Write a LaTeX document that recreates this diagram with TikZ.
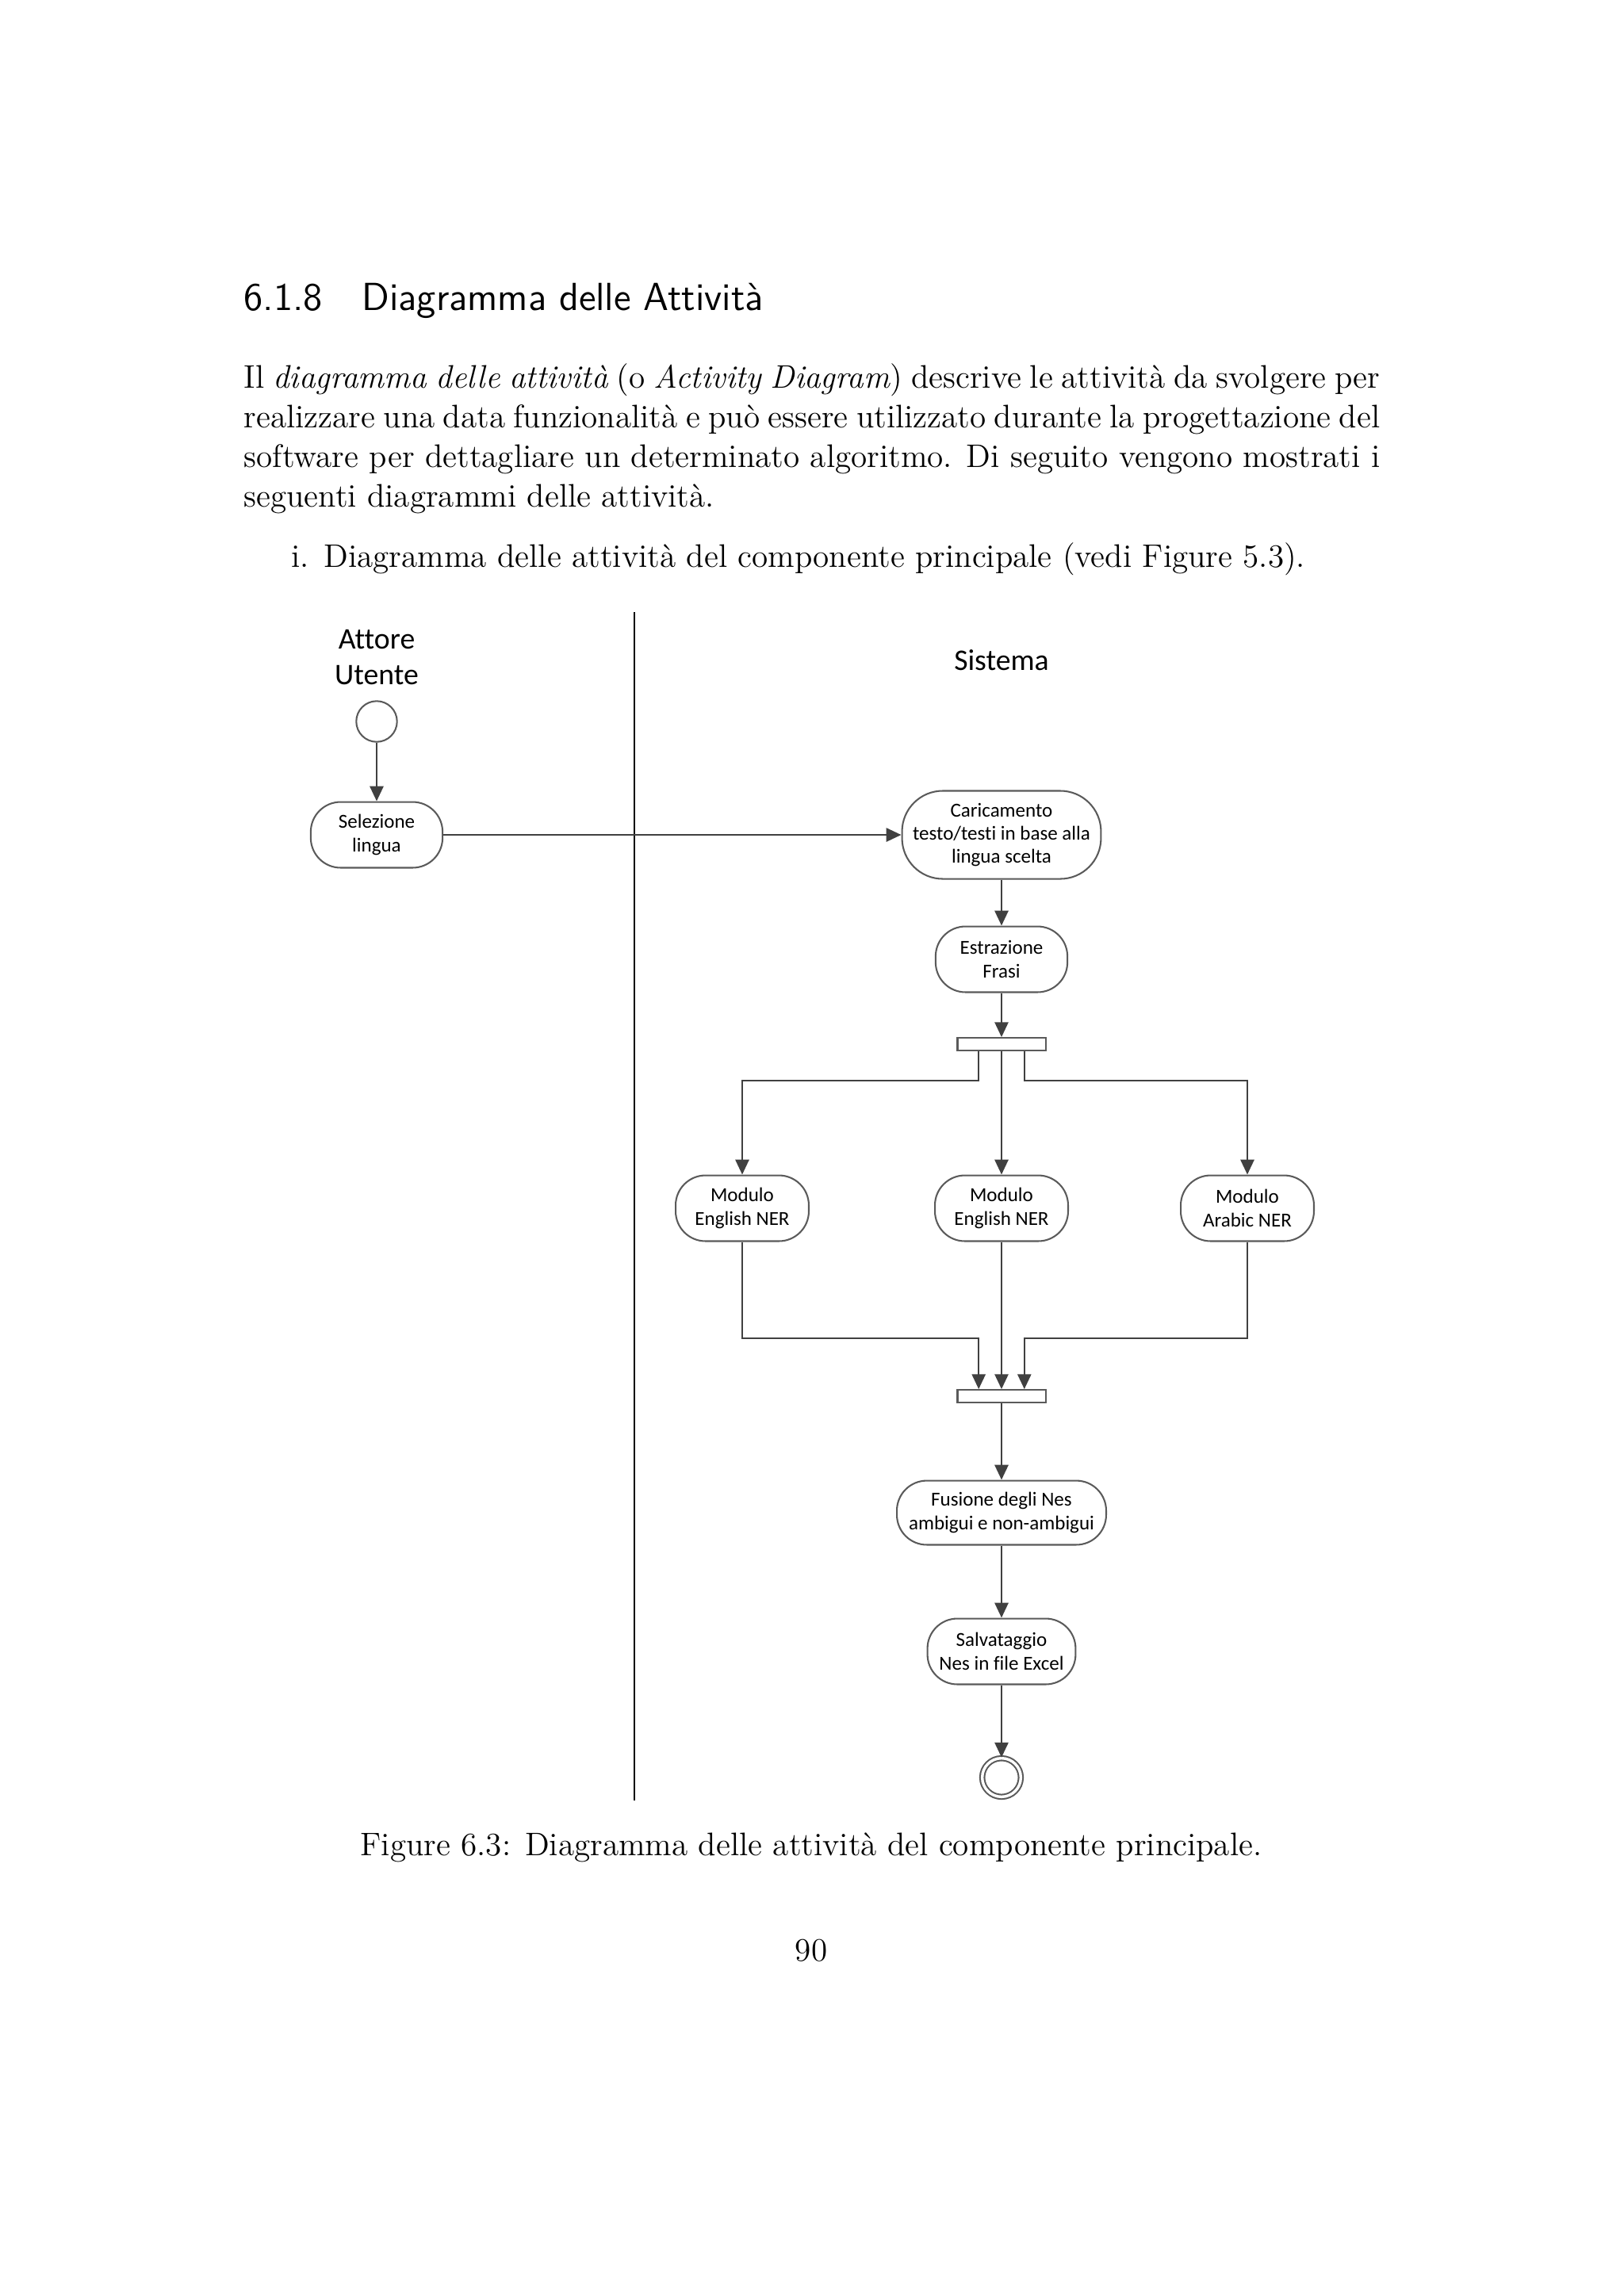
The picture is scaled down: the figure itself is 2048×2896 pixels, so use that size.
\documentclass[tikz,border=0pt,12pt]{standalone}
\usepackage{fontspec}
\newfontfamily\diafont[Ligatures=NoCommon]{Carlito}
\usetikzlibrary{shapes.geometric, arrows.meta, positioning}
\definecolor{flowgray}{HTML}{404040}
\definecolor{boxgray}{HTML}{5A5A5A}

\tikzset{
  txt/.style={anchor=base west, inner sep=0pt},
  lane/.style={align=center, inner sep=0pt, font=\diafont\fontsize{11}{12.9}\selectfont},
  activity/.style={draw=boxgray, fill=white, line width=0.6pt, rounded corners=11pt,
    align=center, inner sep=1pt, minimum width=48.5pt, minimum height=24.2pt,
    font=\diafont\fontsize{7.3}{8.6}\selectfont},
  syncbar/.style={draw=boxgray, fill=white, line width=0.6pt, minimum width=32.4pt,
    minimum height=4.6pt, inner sep=0pt},
  startnode/.style={circle, draw=boxgray, fill=white, line width=0.6pt, minimum size=15pt, inner sep=0pt},
  endnode/.style={circle, draw=boxgray, fill=white, line width=0.6pt, double, double distance=1pt,
    minimum size=14.2pt, inner sep=0pt},
  flow/.style={draw=flowgray, line width=0.7pt, -{Triangle[length=5.5pt,width=5pt]}}
}

\begin{document}
\begin{tikzpicture}[x=0.010254cm, y=-0.010254cm]
\useasboundingbox[fill=white] (0,0) rectangle (2048,2896);

% Section heading and text
\node[txt, font=\sffamily\fontsize{14.4}{17}\selectfont] (secnum) at (307,391) {6.1.8};
\node[txt, font=\sffamily\fontsize{14.4}{17}\selectfont] (sectitle) at (456,391) {Diagramma delle Attività};
\node[txt] (parA) at (307,489) {\makebox[418pt][s]{Il \emph{diagramma delle attività} (o \emph{Activity Diagram}) descrive le attività da svolgere per}};
\node[txt] (parB) at (307,539) {\makebox[418pt][s]{realizzare una data funzionalità e può essere utilizzato durante la progettazione del}};
\node[txt] (parC) at (307,589) {\makebox[418pt][s]{software per dettagliare un determinato algoritmo. Di seguito vengono mostrati i}};
\node[txt] (parD) at (307,639) {seguenti diagrammi delle attività.};
\node[txt] (itemnum) at (367,715) {i.};
\node[txt] (itemtext) at (408,715) {Diagramma delle attività del componente principale (vedi Figure 5.3).};

% Swimlanes
\draw[line width=0.8pt] (800,772) -- (800,2271);
\node[lane] (actor) at (475,829) {Attore\\Utente};
\node[lane] (system) at (1263,833) {Sistema};

% Activities
\node[startnode] (start) at (475,910) {};
\node[activity] (select) at (475,1053) {Selezione\\lingua};
\node[activity, minimum width=73.2pt, minimum height=32.4pt, rounded corners=15pt] (load) at (1263,1053) {Caricamento\\testo/testi in base alla\\lingua scelta};
\node[activity] (extract) at (1263,1210) {Estrazione\\Frasi};
\node[syncbar] (fork) at (1263,1317) {};
\node[activity, minimum width=49pt] (modA) at (936,1524) {Modulo\\English NER};
\node[activity, minimum width=49pt] (modB) at (1263,1524) {Modulo\\English NER};
\node[activity, minimum width=49pt] (modC) at (1573,1524) {Modulo\\Arabic NER};
\node[syncbar] (join) at (1263,1761) {};
\node[activity, minimum width=77pt, minimum height=23.6pt] (merge) at (1263,1908) {Fusione degli Nes\\ambigui e non-ambigui};
\node[activity, minimum width=54.5pt] (save) at (1263,2083) {Salvataggio\\Nes in file Excel};
\node[endnode] (finish) at (1263,2242) {};

\coordinate (forkL) at ([xshift=-8.4pt]fork.south);
\coordinate (forkR) at ([xshift=8.4pt]fork.south);
\coordinate (joinL) at ([xshift=-8.4pt]join.north);
\coordinate (joinR) at ([xshift=8.4pt]join.north);
\coordinate (splitY) at (1263,1363);
\coordinate (mergeY) at (1263,1688);

% Flows
\draw[flow] (start) -- (select);
\draw[flow] (select) -- (load);
\draw[flow] (load) -- (extract);
\draw[flow] (extract) -- (fork);
\draw[flow] (forkL) -- (forkL |- splitY) -| (modA.north);
\draw[flow] (fork) -- (modB);
\draw[flow] (forkR) -- (forkR |- splitY) -| (modC.north);
\draw[flow] (modA.south) |- (joinL |- mergeY) -- (joinL);
\draw[flow] (modB) -- (join);
\draw[flow] (modC.south) |- (joinR |- mergeY) -- (joinR);
\draw[flow] (join) -- (merge);
\draw[flow] (merge) -- (save);
\draw[flow] (save) -- (finish);

% Caption and page number
\node[anchor=base, inner sep=0pt] (caption) at (1023,2340) {Figure 6.3: Diagramma delle attività del componente principale.};
\node[anchor=base, inner sep=0pt] (pagenum) at (1023,2473) {90};
\end{tikzpicture}
\end{document}
